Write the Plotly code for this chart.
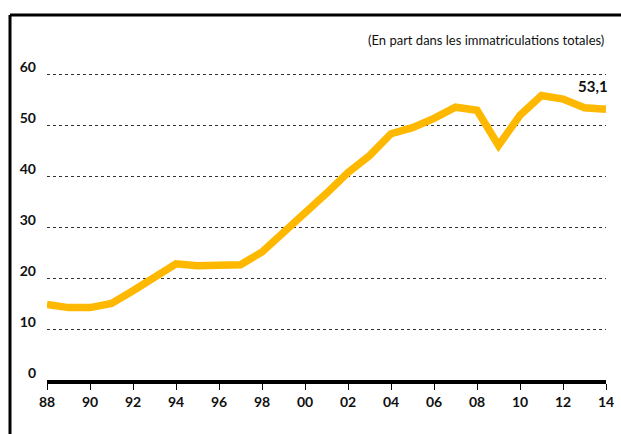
import plotly.graph_objects as go

years = list(range(1988, 2015))
share = [14.8, 14.2, 14.2, 15.0, 17.5, 20.3, 22.8, 22.4, 22.6, 22.6, 25.1, 28.8,
         32.7, 36.6, 40.7, 44.0, 48.3, 49.5, 51.3, 53.5, 52.9, 46.0, 51.9, 55.8,
         55.1, 53.4, 53.1]
tick_years = list(range(1988, 2015, 2))
tick_text = [f"{y % 100:02d}" for y in tick_years]
y_ticks = [0, 10, 20, 30, 40, 50, 60]
subtitle = "(En part dans les immatriculations totales)"
last_label = "53,1"

FONT = "Lato, Roboto, sans-serif"

W, H = 621, 434
L, R, T, B = 47, 15, 71, 54
pw, ph = W - L - R, H - T - B


def px_x(px):
    return (px - L) / pw


def px_y(py):
    return (H - B - py) / ph


fig = go.Figure()
fig.add_trace(go.Scatter(
    x=years, y=share, mode="lines",
    line=dict(color="#FFB800", width=7.5),
    hoverinfo="skip", showlegend=False, cliponaxis=False,
))

fig.add_annotation(
    x=years[-1], y=share[-1], text=f"<b>{last_label}</b>",
    showarrow=False, xanchor="center", yanchor="bottom", yshift=12, xshift=-13,
    font=dict(family=FONT, size=15, color="#111"),
)
fig.add_annotation(
    x=px_x(606), y=px_y(40), xref="paper", yref="paper", text=subtitle,
    showarrow=False, xanchor="right", yanchor="middle",
    font=dict(family=FONT, size=13, color="#111"),
)

# frame (top and left border lines)
fig.add_shape(type="line", xref="paper", yref="paper",
              x0=px_x(10), x1=px_x(640), y0=px_y(15), y1=px_y(15),
              line=dict(color="black", width=3))
fig.add_shape(type="line", xref="paper", yref="paper",
              x0=px_x(10), x1=px_x(10), y0=px_y(15), y1=px_y(450),
              line=dict(color="black", width=3))

fig.update_layout(
    width=W, height=H,
    margin=dict(l=L, r=R, t=T, b=B, autoexpand=False),
    paper_bgcolor="white", plot_bgcolor="white",
    font=dict(family=FONT, size=14, color="#111"),
    xaxis=dict(
        range=[1988, 2014], tickvals=tick_years, ticktext=tick_text,
        showgrid=False, zeroline=False, automargin=False,
        showline=True, linecolor="black", linewidth=4,
        ticks="outside", ticklen=6, tickwidth=1, tickcolor="black",
        tickfont=dict(family=FONT, size=14, color="#111", weight="bold"),
        fixedrange=True,
    ),
    yaxis=dict(
        range=[0, 60.6], tickvals=y_ticks, automargin=False,
        showgrid=True, gridcolor="#333", griddash="dot", gridwidth=1,
        zeroline=False, showline=False, ticks="",
        ticklabelshift=-7, ticklabelstandoff=10,
        tickfont=dict(family=FONT, size=14, color="#111", weight="bold"),
        fixedrange=True,
    ),
)

fig.write_html(
    "out.html",
    config={"displayModeBar": False},
    post_script="document.body.style.margin='0';document.body.style.overflow='hidden';",
)
